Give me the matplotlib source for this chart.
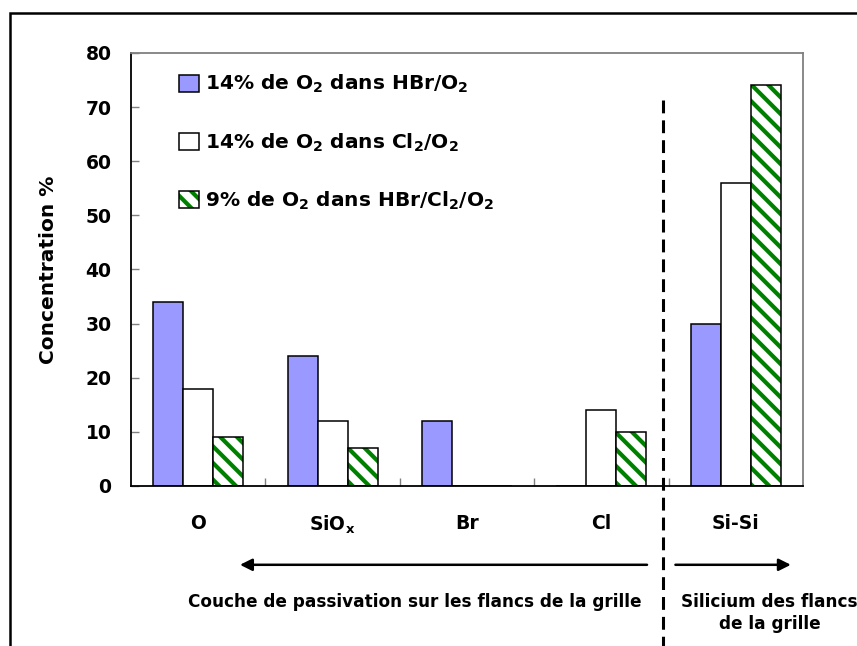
import numpy as np
import matplotlib
matplotlib.use('Agg')
import matplotlib.pyplot as plt
from matplotlib.patches import Patch, Rectangle
from matplotlib.legend_handler import HandlerTuple

plt.rcParams['font.family'] = ['DejaVu Sans']
plt.rcParams['font.weight'] = 'bold'
plt.rcParams['mathtext.fontset'] = 'dejavusans'
plt.rcParams['hatch.linewidth'] = 3.0

# donnees
categories = ['O', r'SiO$_\mathbf{x}$', 'Br', 'Cl', 'Si-Si']
hbr_o2 = [34, 24, 12, 0, 30]
cl2_o2 = [18, 12, 0, 14, 56]
hbr_cl2_o2 = [9, 7, 0, 10, 74]
labels = [r'14% de O$_\mathbf{2}$ dans HBr/O$_\mathbf{2}$',
          r'14% de O$_\mathbf{2}$ dans Cl$_\mathbf{2}$/O$_\mathbf{2}$',
          r'9% de O$_\mathbf{2}$ dans HBr/Cl$_\mathbf{2}$/O$_\mathbf{2}$']
yticks = [0, 10, 20, 30, 40, 50, 60, 70, 80]

bleu = '#9999FF'
vert = '#008000'
hach = '\\' * 2

fig = plt.figure(figsize=(8.57, 6.46), dpi=100)
ax = fig.add_axes([0.1529, 0.2477, 0.7841, 0.6703])

x = np.arange(len(categories))
w = 0.223

ax.bar(x - w, hbr_o2, w, color=bleu, edgecolor='black', linewidth=1.1)
ax.bar(x, cl2_o2, w, color='white', edgecolor='black', linewidth=1.1)
ax.bar(x + w, hbr_cl2_o2, w, color='white', edgecolor=vert, hatch=hach, linewidth=0)
ax.bar(x + w, hbr_cl2_o2, w, color='none', edgecolor='black', linewidth=1.1)

ax.set_xlim(-0.5, 4.5)
ax.set_ylim(0, 80)
ax.set_yticks(yticks)
ax.set_xticks(x)
ax.set_xticklabels(categories)
ax.set_xticks(x[:-1] + 0.5, minor=True)
ax.tick_params(axis='y', direction='in', length=6, width=1, color='#808080',
               pad=14, labelsize=13.5)
ax.tick_params(axis='x', which='major', length=0, pad=20, labelsize=13.5)
ax.tick_params(axis='x', which='minor', direction='in', length=6, width=1, color='#808080')

for s in ['top', 'right']:
    ax.spines[s].set_color('#808080')
    ax.spines[s].set_linewidth(1.3)
for s in ['left', 'bottom']:
    ax.spines[s].set_color('black')
    ax.spines[s].set_linewidth(1.3)

ax.set_ylabel('Concentration %', fontsize=14.5, fontweight='bold')
ax.yaxis.set_label_coords(-0.109, 0.5)

# legende
handles = [Patch(facecolor=bleu, edgecolor='black', linewidth=1.1),
           Patch(facecolor='white', edgecolor='black', linewidth=1.1),
           (Patch(facecolor='white', edgecolor=vert, hatch=hach, linewidth=0),
            Patch(facecolor='none', edgecolor='black', linewidth=1.1))]
ax.legend(handles, labels, loc='upper left', bbox_to_anchor=(0.06, 0.972),
          frameon=False, fontsize=14.5, handlelength=0.95, handleheight=0.95,
          handletextpad=0.3, labelspacing=1.78, borderaxespad=0,
          handler_map={tuple: HandlerTuple(ndivide=1)})

# separation et fleches
tr = ax.get_xaxis_transform()
sep = 3.458
ax.plot([sep, sep], [0.891, -0.40], transform=tr, color='black', lw=2.2,
        dashes=(4.2, 2.3), clip_on=False)
ax.annotate('', xy=(0.29, -0.182), xytext=(3.36, -0.182), xycoords=tr, textcoords=tr,
            arrowprops=dict(arrowstyle='-|>', color='black', lw=1.8, mutation_scale=18))
ax.annotate('', xy=(4.43, -0.182), xytext=(3.53, -0.182), xycoords=tr, textcoords=tr,
            arrowprops=dict(arrowstyle='-|>', color='black', lw=1.8, mutation_scale=18))
ax.text(1.61, -0.268, 'Couche de passivation sur les flancs de la grille', transform=tr,
        ha='center', va='center', fontsize=12.2, fontweight='bold')
ax.text(4.25, -0.293, 'Silicium des flancs\nde la grille', transform=tr,
        ha='center', va='center', fontsize=12.2, fontweight='bold', linespacing=1.25)

# cadre
fig.add_artist(Rectangle((10 / 857, -0.1), 1.2, 1.1 - 13 / 646, fill=False,
                         edgecolor='black', linewidth=1.8, transform=fig.transFigure))

fig.savefig('out.png', dpi=100)
